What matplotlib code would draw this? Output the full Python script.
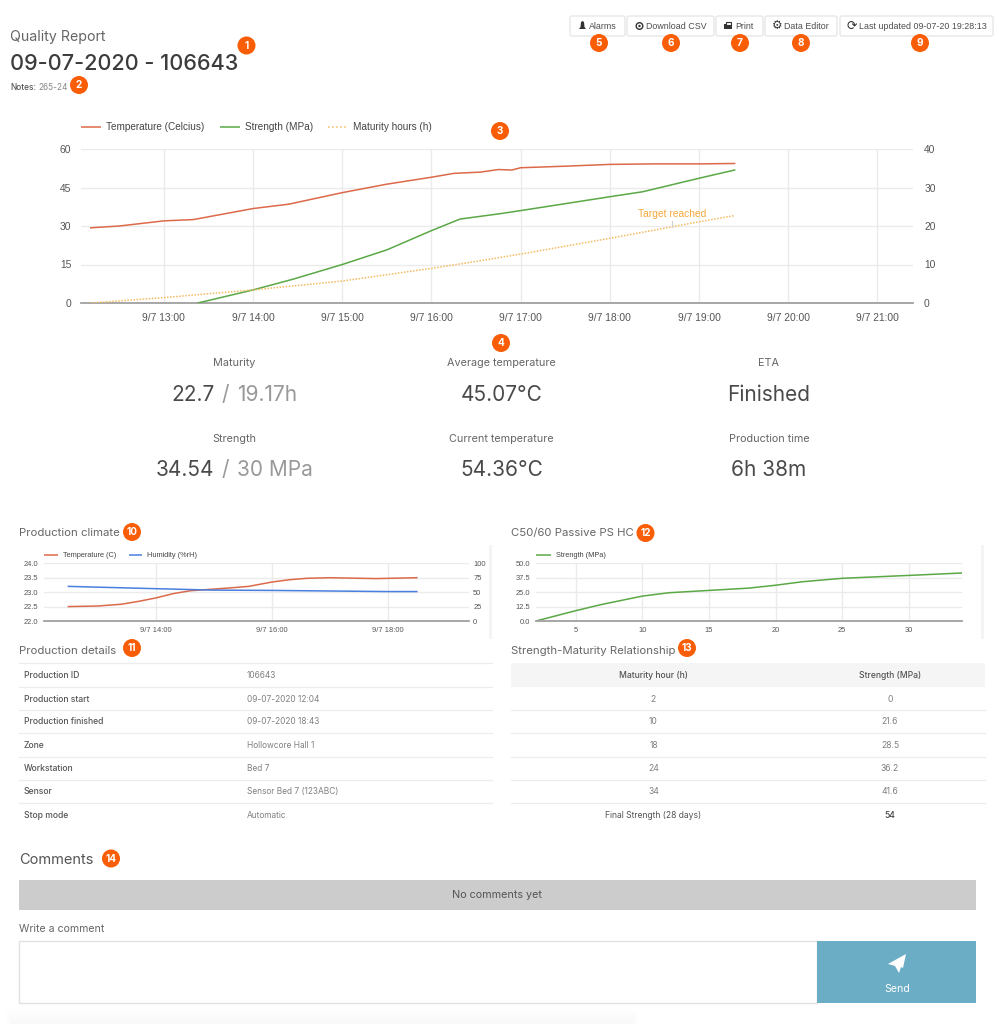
"""Quality report dashboard, drawn on one pixel-sized page axes plus three chart axes."""
import matplotlib
matplotlib.use("Agg")
import matplotlib.pyplot as plt
from matplotlib.patches import Circle, FancyBboxPatch, Polygon, Rectangle

W, H = 1004, 1024
UI_FONT = "Inter"
CHART_FONT = "Liberation Sans"

ORANGE = "#f95d06"
RED = "#dc6a4a"
GREEN = "#5aa846"
AMBER = "#f5bb62"
BLUE = "#4a7fe0"
GRID = "#ebebeb"
BASE = "#a0a0a0"
TICK = "#555555"

# main chart
main_ticks = [13, 14, 15, 16, 17, 18, 19, 20, 21]
main_tick_labels = ["9/7 13:00", "9/7 14:00", "9/7 15:00", "9/7 16:00", "9/7 17:00",
                    "9/7 18:00", "9/7 19:00", "9/7 20:00", "9/7 21:00"]
temp_hours = [12.18, 12.5, 13.0, 13.33, 14.0, 14.4, 15.0, 15.5, 16.0, 16.25, 16.55,
              16.75, 16.9, 17.0, 17.5, 18.0, 18.5, 19.0, 19.4]
temp_values = [29.3, 30.0, 32.0, 32.5, 36.8, 38.5, 43.0, 46.3, 49.0, 50.5, 51.0,
               52.0, 51.8, 52.7, 53.3, 54.0, 54.2, 54.2, 54.36]
strength_hours = [13.38, 14.0, 14.45, 15.0, 15.5, 16.0, 16.32, 16.77, 17.0, 18.0, 18.37, 19.0, 19.4]
strength_values = [0, 3.4, 6.2, 10.0, 13.8, 18.8, 21.8, 23.2, 24.0, 27.6, 28.9, 32.4, 34.54]
maturity_hours = [12.18, 13.0, 14.0, 15.0, 16.0, 16.5, 17.0, 18.0, 18.7, 19.0, 19.4]
maturity_values = [0, 1.4, 3.4, 5.7, 9.0, 10.8, 12.7, 16.8, 19.8, 21.1, 22.7]

# production climate chart
climate_ticks = [14, 16, 18]
climate_tick_labels = ["9/7 14:00", "9/7 16:00", "9/7 18:00"]
climate_temp_hours = [12.49, 13.0, 13.4, 13.7, 14.0, 14.3, 14.6, 15.3, 15.6, 16.0, 16.3, 16.6,
                      17.0, 17.8, 18.5]
climate_temp_values = [22.5, 22.52, 22.58, 22.68, 22.8, 22.95, 23.05, 23.15, 23.2, 23.35, 23.43,
                       23.48, 23.5, 23.47, 23.5]
humidity_hours = [12.49, 14.0, 15.0, 16.0, 17.0, 18.0, 18.5]
humidity_values = [60, 56, 53.5, 53, 52, 51, 51]

# strength curve chart
curve_ticks = [5, 10, 15, 20, 25, 30]
curve_maturity = [2, 5, 7, 10, 12, 15, 18, 20, 22, 25, 30, 34]
curve_strength = [0, 9, 14.5, 21.6, 24.5, 26.5, 28.5, 31, 34, 37, 39.5, 41.6]

# tables
detail_names = ["Production ID", "Production start", "Production finished", "Zone",
                "Workstation", "Sensor", "Stop mode"]
detail_values = ["106643", "09-07-2020 12:04", "09-07-2020 18:43", "Hollowcore Hall 1",
                 "Bed 7", "Sensor Bed 7 (123ABC)", "Automatic"]
table_maturity = ["2", "10", "18", "24", "34", "Final Strength (28 days)"]
table_strength = ["0", "21.6", "28.5", "36.2", "41.6", "54"]

row_text_y = [676, 699, 722, 745.5, 768.5, 791.5, 815]
row_line_y = [663.3, 686.7, 710, 733, 756.5, 779.5, 802.5]

fig = plt.figure(figsize=(W / 100, H / 100), dpi=100, facecolor="white")
page = fig.add_axes([0, 0, 1, 1], zorder=0)
page.set_xlim(0, W)
page.set_ylim(H, 0)
page.axis("off")


def px_axes(left, top, right, bottom):
    ax = fig.add_axes([left / W, 1 - bottom / H, (right - left) / W, (bottom - top) / H], zorder=2)
    ax.patch.set_alpha(0)
    return ax


def style_axes(ax, size, pad):
    for name, spine in ax.spines.items():
        spine.set_visible(name == "bottom")
    ax.spines["bottom"].set_color(BASE)
    ax.spines["bottom"].set_linewidth(1.3)
    ax.tick_params(length=0, labelsize=size, labelcolor=TICK, pad=pad)
    for label in ax.get_xticklabels() + ax.get_yticklabels():
        label.set_fontfamily(CHART_FONT)
    ax.grid(True, color=GRID, lw=1)
    ax.set_axisbelow(True)


def text(x, y, s, size=8, color="#555555", ha="left", family=UI_FONT, weight="normal", **kw):
    return page.text(x, y, s, fontsize=size, color=color, ha=ha, va="center",
                     family=family, weight=weight, **kw)


def badge(x, y, s, r=9):
    page.add_patch(Circle((x, y), r, fc=ORANGE, ec="none", zorder=6))
    page.text(x, y + 0.3, s, color="white", fontsize=7.2, ha="center", va="center",
              family=UI_FONT, weight="bold", zorder=7)


def legend_entry(x0, x1, y, color, label, size, ls="-", lw=1.1):
    page.plot([x0, x1], [y, y], color=color, lw=lw, ls=ls, solid_capstyle="butt")
    text(x1 + 5, y + 0.5, label, size=size, color="#444444", family=CHART_FONT)


# ---- header
text(10, 37, "Quality Report", size=10.2, color="#666666")
text(10, 64, "09-07-2020 - 106643", size=15.6, color="#3c3c3c", weight="medium")
text(10, 87.5, "Notes:", size=6, color="#555555", weight="medium")
text(38, 87.5, "265-24", size=6, color="#888888")

# ---- toolbar buttons
buttons = [(570, 625, 589, "Alarms"), (627, 714, 646, "Download CSV"), (716, 763, 735, "Print"),
           (765, 837, 784, "Data Editor"), (840, 993, 859, "Last updated 09-07-20 19:28:13")]
for x0, x1, tx, label in buttons:
    page.add_patch(FancyBboxPatch((x0, 16), x1 - x0, 20, boxstyle="round,pad=0,rounding_size=2",
                                  fc="white", ec="#e8e8e8", lw=1))
    text(tx, 26.5, label, size=6.4, color="#4d4d4d", family=CHART_FONT)
# little button icons
page.add_patch(Polygon([(579, 29), (580.5, 27), (581, 22), (582.5, 21), (584, 22), (584.5, 27),
                        (586, 29)], fc="#333333", ec="none"))
page.add_patch(Circle((639.5, 26), 3.3, fc="white", ec="#333333", lw=1))
page.add_patch(Circle((639.5, 26), 1.2, fc="#333333", ec="none"))
page.add_patch(Rectangle((724.5, 24), 8, 4.5, fc="#333333", ec="none"))
page.add_patch(Rectangle((726, 21.5), 5, 3, fc="white", ec="#333333", lw=0.8))
text(777, 25.5, "\u2699", size=8.5, color="#333333", family="DejaVu Sans", ha="center", weight="bold")
text(852, 26, "\u27f3", size=9, color="#333333", family="DejaVu Sans", ha="center")

# ---- main chart
legend_entry(81, 101, 127, RED, "Temperature (Celcius)", 7.2)
legend_entry(220, 240, 127, GREEN, "Strength (MPa)", 7.2)
legend_entry(328, 348, 127, AMBER, "Maturity hours (h)", 7.2, ls=":")

ax = px_axes(81, 149, 913, 303)
ax.plot(temp_hours, temp_values, color=RED, lw=1.1)
ax.set_xlim(12.07, 21.4)
ax.set_ylim(0, 60)
ax.set_xticks(main_ticks, main_tick_labels)
ax.set_yticks([0, 15, 30, 45, 60])
style_axes(ax, 7.4, 7)

ax2 = ax.twinx()
ax2.patch.set_alpha(0)
ax2.plot(strength_hours, strength_values, color=GREEN, lw=1.1)
ax2.plot(maturity_hours, maturity_values, color=AMBER, lw=1.1, ls=(0, (1, 1)))
ax2.plot([18.7, 18.7], [19.8, 21.3], color="#cfcfcf", lw=0.8)
ax2.text(18.7, 23.0, "Target reached", color="#f5a93c", fontsize=7.4, ha="center", va="center",
         family=CHART_FONT)
ax2.set_ylim(0, 40)
ax2.set_yticks([0, 10, 20, 30, 40])
for name, spine in ax2.spines.items():
    spine.set_visible(False)
ax2.tick_params(length=0, labelsize=7.4, labelcolor=TICK, pad=8)
for label in ax2.get_yticklabels():
    label.set_fontfamily(CHART_FONT)

# ---- KPI block
KPI_DARK = "#4a4a4a"
KPI_GREY = "#999999"
KPI_SIZE = 15
for x, y, s in [(234, 363.5, "Maturity"), (501.5, 363.5, "Average temperature"), (769, 363.5, "ETA"),
                (234, 438.5, "Strength"), (501.5, 438.5, "Current temperature"), (769, 438.5, "Production time")]:
    text(x, y, s, size=7.8, color="#666666", ha="center")
text(215, 395, "22.7", size=KPI_SIZE, color=KPI_DARK, ha="right")
text(225, 395, "/", size=KPI_SIZE, color=KPI_GREY, ha="center")
text(237, 395, "19.17h", size=KPI_SIZE, color=KPI_GREY)
text(214, 470, "34.54", size=KPI_SIZE, color=KPI_DARK, ha="right")
text(225, 470, "/", size=KPI_SIZE, color=KPI_GREY, ha="center")
text(237, 470, "30 MPa", size=KPI_SIZE, color=KPI_GREY)
text(501.5, 395, "45.07\u00b0C", size=KPI_SIZE, color=KPI_DARK, ha="center")
text(501.5, 470, "54.36\u00b0C", size=KPI_SIZE, color=KPI_DARK, ha="center")
text(769, 395, "Finished", size=KPI_SIZE, color=KPI_DARK, ha="center")
text(769, 470, "6h 38m", size=KPI_SIZE, color=KPI_DARK, ha="center")

# ---- section headings
text(19, 533, "Production climate", size=8.2, color="#666666")
text(19, 651, "Production details", size=8.2, color="#666666")
text(511, 533, "C50/60 Passive PS HC", size=8.2, color="#666666")
text(511, 651, "Strength-Maturity Relationship", size=8.2, color="#666666")

# scroll gutters next to the small charts
page.add_patch(Rectangle((489, 545), 3.5, 94, fc="#f4f4f4", ec="none"))
page.add_patch(Rectangle((981, 545), 3.5, 94, fc="#f4f4f4", ec="none"))

# ---- production climate chart
legend_entry(44, 58, 555, RED, "Temperature (C)", 5.3)
legend_entry(129, 142, 555, BLUE, "Humidity (%rH)", 5.3)
ax = px_axes(44, 563.3, 469, 621)
ax.plot(climate_temp_hours, climate_temp_values, color=RED, lw=1.1)
ax.set_xlim(12.07, 19.4)
ax.set_ylim(22, 24)
ax.set_xticks(climate_ticks, climate_tick_labels)
ax.set_yticks([22, 22.5, 23, 23.5, 24], ["22.0", "22.5", "23.0", "23.5", "24.0"])
style_axes(ax, 5.4, 4)
ax2 = ax.twinx()
ax2.patch.set_alpha(0)
ax2.plot(humidity_hours, humidity_values, color=BLUE, lw=1.1)
ax2.set_ylim(0, 100)
ax2.set_yticks([0, 25, 50, 75, 100])
for spine in ax2.spines.values():
    spine.set_visible(False)
ax2.tick_params(length=0, labelsize=5.4, labelcolor=TICK, pad=3)
for label in ax2.get_yticklabels():
    label.set_fontfamily(CHART_FONT)

# ---- strength curve chart
legend_entry(536, 551, 555, GREEN, "Strength (MPa)", 5.3)
ax = px_axes(536, 563.3, 962, 621)
ax.plot(curve_maturity, curve_strength, color=GREEN, lw=1.1)
ax.set_xlim(2, 34)
ax.set_ylim(0, 50)
ax.set_xticks(curve_ticks)
ax.set_yticks([0, 12.5, 25, 37.5, 50], ["0.0", "12.5", "25.0", "37.5", "50.0"])
style_axes(ax, 5.4, 4)

# ---- production details table
for y in row_line_y:
    page.plot([19, 492], [y, y], color="#ededed", lw=0.9)
for y, name, value in zip(row_text_y, detail_names, detail_values):
    text(24, y, name, size=6.2, color="#555555", weight="medium")
    text(247, y, value, size=6.0, color="#808080")

# ---- strength-maturity table
page.add_patch(Rectangle((511, 663), 474, 24, fc="#f5f5f5", ec="none"))
for y in row_line_y[2:]:
    page.plot([511, 985], [y, y], color="#ededed", lw=0.9)
text(653.5, row_text_y[0], "Maturity hour (h)", size=6.2, color="#555555", ha="center", weight="medium")
text(890, row_text_y[0], "Strength (MPa)", size=6.2, color="#555555", ha="center", weight="medium")
for i, (y, mat, stren) in enumerate(zip(row_text_y[1:], table_maturity, table_strength)):
    last = i == len(table_maturity) - 1
    text(653.5, y, mat, size=6.2, color="#555555" if last else "#808080", ha="center")
    text(890, y, stren, size=6.2, color="#444444" if last else "#808080", ha="center",
         weight="medium" if last else "normal")

# ---- comments
text(19, 860, "Comments", size=10.5, color="#555555")
page.add_patch(Rectangle((19, 880), 957, 30, fc="#cccccc", ec="none"))
text(497, 895.5, "No comments yet", size=7.8, color="#555555", ha="center")
text(19, 929, "Write a comment", size=7.6, color="#666666")
page.add_patch(Rectangle((19, 941), 798, 62, fc="white", ec="#e2e2e2", lw=1))
page.add_patch(Rectangle((817, 941), 159, 62, fc="#6badc5", ec="none"))
page.add_patch(Polygon([(906, 954), (888, 964), (895, 966), (899, 973), (901, 967), (903, 968)],
                       fc="white", ec="none"))
text(897, 988.5, "Send", size=7.6, color="white", ha="center")

# faint shadow along the bottom edge
for i in range(7):
    page.add_patch(Rectangle((6 + i, 1010 + i * 2), 632 - i * 2, 14 - i * 2, fc="#000000",
                             alpha=0.004, ec="none"))

# ---- numbered callouts
for x, y, s in [(246.5, 45.5, "1"), (79, 85, "2"), (500, 131, "3"), (501, 343, "4"),
                (599, 43, "5"), (671, 43, "6"), (740, 43, "7"), (801, 43, "8"), (920, 43, "9"),
                (132, 532, "10"), (132, 648, "11"), (645.5, 533, "12"), (687, 648, "13"),
                (111, 858.5, "14")]:
    badge(x, y, s)

fig.savefig("out.png", dpi=100)
